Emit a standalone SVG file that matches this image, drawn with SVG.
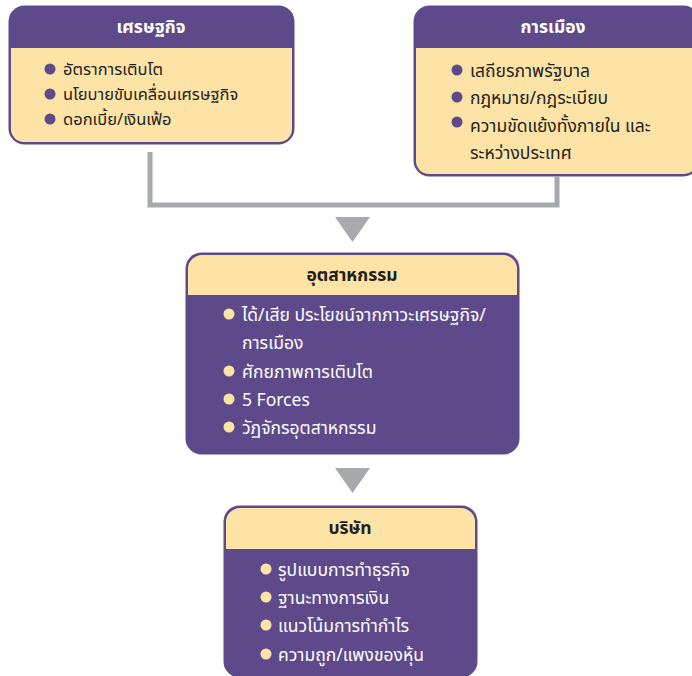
<svg xmlns="http://www.w3.org/2000/svg" width="692" height="676" viewBox="0 0 692 676">
<style>
.t{font-family:"Noto Sans Thai","Noto Sans","DejaVu Sans",sans-serif;font-size:17.5px}
.s{font-size:16.5px}
.hw{font-family:"Noto Sans Thai","Noto Sans","DejaVu Sans",sans-serif;font-size:17.5px;font-weight:bold;fill:#ffffff;text-anchor:middle}
.hd{font-family:"Noto Sans Thai","Noto Sans","DejaVu Sans",sans-serif;font-size:17.5px;font-weight:bold;fill:#231f20;text-anchor:middle}
.dk{fill:#231f20}
.lt{fill:#ffffff}
.pb{fill:#5e4a8b}
.yb{fill:#fde3a6}
.conn{fill:none;stroke:#a7a9ac;stroke-width:5}
.arr{fill:#a7a9ac}
</style>
<g id="connectors">
<polyline class="conn" points="150,152 150,205 557,205 557,177"/>
<polygon class="arr" points="335,217 370,217 352.5,242"/>
<polygon class="arr" points="335,468 370,468 352.5,493"/>
</g>
<g id="economy">
<rect x="8.5" y="5.5" width="286" height="139" rx="16" fill="#5e4a8b"/>
<rect x="11" y="48" width="281" height="94" rx="13" fill="#fde3a6"/>
<rect x="11" y="48" width="281" height="20" fill="#fde3a6"/>
<text class="hw" x="151" y="33">เศรษฐกิจ</text>
<circle class="pb" cx="50" cy="69" r="5.5"/>
<circle class="pb" cx="50" cy="94" r="5.5"/>
<circle class="pb" cx="50" cy="119" r="5.5"/>
<text class="t s dk" x="63" y="75">อัตราการเติบโต</text>
<text class="t s dk" x="63" y="100">นโยบายขับเคลื่อนเศรษฐกิจ</text>
<text class="t s dk" x="63" y="125">ดอกเบี้ย/เงินเฟ้อ</text>
</g>
<g id="politics">
<rect x="413.5" y="5.5" width="286" height="171" rx="16" fill="#5e4a8b"/>
<rect x="416" y="48" width="281" height="126" rx="13" fill="#fde3a6"/>
<rect x="416" y="48" width="281" height="20" fill="#fde3a6"/>
<text class="hw" x="553" y="33">การเมือง</text>
<circle class="pb" cx="457" cy="70" r="5.5"/>
<circle class="pb" cx="457" cy="97" r="5.5"/>
<circle class="pb" cx="457" cy="122" r="5.5"/>
<text class="t dk" x="470" y="76.5">เสถียรภาพรัฐบาล</text>
<text class="t dk" x="470" y="103.5">กฎหมาย/กฎระเบียบ</text>
<text class="t dk" x="470" y="131.5">ความขัดแย้งทั้งภายใน และ</text>
<text class="t dk" x="470" y="158.5">ระหว่างประเทศ</text>
</g>
<g id="industry">
<rect x="185.5" y="252.5" width="334" height="202" rx="16" fill="#5e4a8b"/>
<path d="M188,295 V270 A14,14 0 0 1 202,255 H503 A14,14 0 0 1 517,270 V295 Z" fill="#fde3a6"/>
<text class="hd" x="352" y="281">อุตสาหกรรม</text>
<circle class="yb" cx="229" cy="314" r="5.5"/>
<circle class="yb" cx="229" cy="371" r="5.5"/>
<circle class="yb" cx="229" cy="399" r="5.5"/>
<circle class="yb" cx="229" cy="427" r="5.5"/>
<text class="t lt" x="242" y="320.5">ได้/เสีย ประโยชน์จากภาวะเศรษฐกิจ/</text>
<text class="t lt" x="242" y="348.5">การเมือง</text>
<text class="t lt" x="242" y="377.5">ศักยภาพการเติบโต</text>
<text class="t lt" x="242" y="405.5">5 Forces</text>
<text class="t lt" x="242" y="433.5">วัฏจักรอุตสาหกรรม</text>
</g>
<g id="company">
<rect x="223.5" y="505.5" width="254" height="172" rx="16" fill="#5e4a8b"/>
<path d="M226,549 V523 A14,14 0 0 1 240,508 H461 A14,14 0 0 1 475,523 V549 Z" fill="#fde3a6"/>
<text class="hd" x="350" y="534">บริษัท</text>
<circle class="yb" cx="266" cy="569" r="5.5"/>
<circle class="yb" cx="266" cy="597" r="5.5"/>
<circle class="yb" cx="266" cy="625" r="5.5"/>
<circle class="yb" cx="266" cy="654" r="5.5"/>
<text class="t lt" x="278" y="575.5">รูปแบบการทำธุรกิจ</text>
<text class="t lt" x="278" y="603.5">ฐานะทางการเงิน</text>
<text class="t lt" x="278" y="631.5">แนวโน้มการทำกำไร</text>
<text class="t lt" x="278" y="660.5">ความถูก/แพงของหุ้น</text>
</g>
</svg>
